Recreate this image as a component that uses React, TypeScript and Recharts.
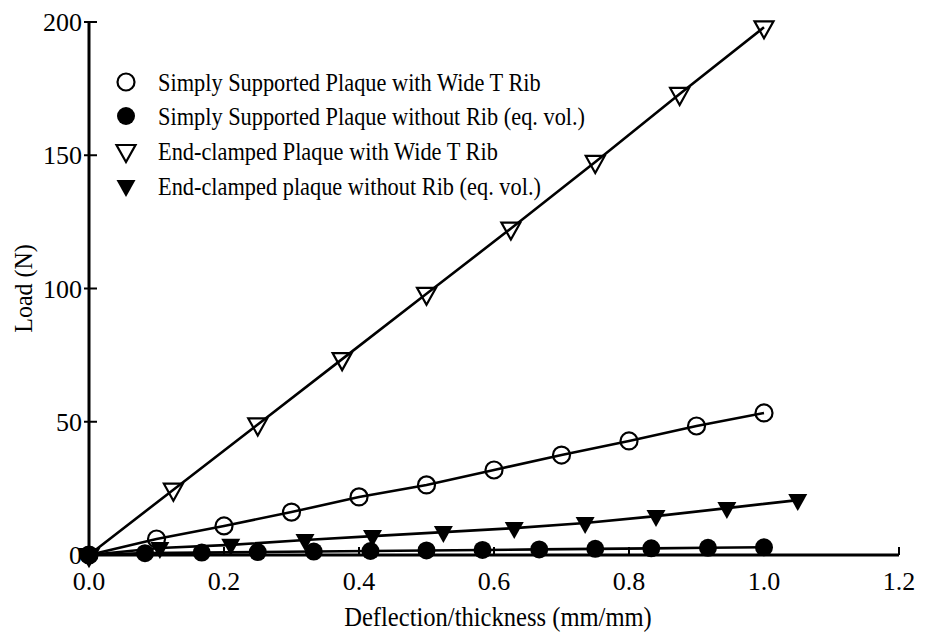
import React from "react";
import { ScatterChart, Scatter, XAxis, YAxis, Legend } from "recharts";

// axis ticks
const xTicks = [0, 0.2, 0.4, 0.6, 0.8, 1.0, 1.2];
const yTicks = [0, 50, 100, 150, 200];

// Simply supported plaque with wide T rib (open circles)
const ssRibX = [0, 0.1, 0.2, 0.3, 0.4, 0.5, 0.6, 0.7, 0.8, 0.9, 1.0];
const ssRibY = [0, 6.0, 10.9, 16.1, 21.8, 26.3, 31.9, 37.5, 42.8, 48.4, 53.3];

// Simply supported plaque without rib (filled circles)
const ssNoRibX = [0, 0.083, 0.167, 0.25, 0.333, 0.417, 0.5, 0.583, 0.667, 0.75, 0.833, 0.917, 1.0];
const ssNoRibY = [0, 0.7, 0.9, 1.1, 1.3, 1.5, 1.7, 1.9, 2.1, 2.3, 2.5, 2.7, 2.9];

// End-clamped plaque with wide T rib (open triangles)
const ecRibX = [0, 0.125, 0.25, 0.375, 0.5, 0.625, 0.75, 0.875, 1.0];
const ecRibY = [0, 24.5, 49, 73.5, 98, 122.5, 147.5, 173, 198];

// End-clamped plaque without rib (filled triangles)
const ecNoRibX = [0, 0.105, 0.21, 0.32, 0.42, 0.525, 0.63, 0.735, 0.84, 0.945, 1.05];
const ecNoRibY = [0, 2.6, 3.8, 5.6, 7.1, 8.6, 10.1, 12.0, 14.6, 17.6, 20.6];

const seriesNames = [
  "Simply Supported Plaque with Wide T Rib",
  "Simply Supported Plaque without Rib (eq. vol.)",
  "End-clamped Plaque with Wide T Rib",
  "End-clamped plaque without Rib (eq. vol.)",
];

const toPoints = (xs: number[], ys: number[]) => xs.map((x, i) => ({ x, y: ys[i] }));

const FONT = "'Liberation Serif', 'DejaVu Serif', 'Times New Roman', serif";

function OpenCircle({ cx, cy }: any) {
  return <circle cx={cx} cy={cy} r={8.5} fill="none" stroke="#000" strokeWidth={2.2} />;
}
function FilledCircle({ cx, cy }: any) {
  return <circle cx={cx} cy={cy} r={9} fill="#000" />;
}
function triPath(cx: number, cy: number) {
  return `M${cx - 9.5},${cy - 6} L${cx + 9.5},${cy - 6} L${cx},${cy + 11} Z`;
}
function OpenTriangle({ cx, cy }: any) {
  return <path d={triPath(cx, cy)} fill="none" stroke="#000" strokeWidth={2.2} strokeLinejoin="miter" />;
}
function FilledTriangle({ cx, cy }: any) {
  return <path d={triPath(cx, cy)} fill="#000" />;
}

const shapes = [OpenCircle, FilledCircle, OpenTriangle, FilledTriangle];

function BottomTick({ x, y, payload }: any) {
  return (
    <g>
      <line x1={x} x2={x} y1={y} y2={y - 8} stroke="#000" strokeWidth={2} />
      <text x={x} y={y + 35} textAnchor="middle" style={{ fontSize: 26, fontFamily: FONT }} fill="#000">
        {Number(payload.value).toFixed(1)}
      </text>
    </g>
  );
}

function LeftTick({ x, y, payload }: any) {
  return (
    <g>
      <line x1={x - 5} x2={x + 8} y1={y} y2={y} stroke="#000" strokeWidth={2} />
      <text x={x - 7} y={y + 9} textAnchor="end" style={{ fontSize: 26, fontFamily: FONT }} fill="#000">
        {payload.value}
      </text>
    </g>
  );
}

function LegendBox() {
  const rows = [82, 116, 151, 186];
  return (
    <svg width={640} height={210}>
      {seriesNames.map((name, i) => {
        const Shape = shapes[i];
        return (
          <g key={name}>
            <Shape cx={126} cy={rows[i]} />
            <text
              transform={`translate(158, ${rows[i] + 9}) scale(0.86, 1)`}
              style={{ fontSize: 26, fontFamily: FONT }}
              fill="#000"
            >
              {name}
            </text>
          </g>
        );
      })}
    </svg>
  );
}

export default function App() {
  const all = [
    toPoints(ssRibX, ssRibY),
    toPoints(ssNoRibX, ssNoRibY),
    toPoints(ecRibX, ecRibY),
    toPoints(ecNoRibX, ecNoRibY),
  ];
  return (
    <div style={{ position: "absolute", left: 0, top: 0, background: "#fff" }}>
      <ScatterChart width={926} height={632} margin={{ top: 22, right: 27, bottom: 0, left: 0 }}>
        <XAxis
          type="number"
          dataKey="x"
          domain={[0, 1.2]}
          ticks={xTicks}
          interval={0}
          height={77}
          tickSize={0}
          tickMargin={0}
          tickLine={false}
          axisLine={{ stroke: "#000", strokeWidth: 3 }}
          tick={<BottomTick />}
          label={(p: any) => {
            const vb = p.viewBox;
            return (
              <text
                transform={`translate(${vb.x + vb.width / 2 + 4}, ${vb.y + 71}) scale(0.91, 1)`}
                textAnchor="middle"
                style={{ fontSize: 27, fontFamily: FONT }}
                fill="#000"
              >
                Deflection/thickness (mm/mm)
              </text>
            );
          }}
        />
        <XAxis
          xAxisId="top"
          orientation="top"
          type="number"
          domain={[0, 1.2]}
          ticks={xTicks}
          interval={0}
          mirror
          height={0}
          tickSize={9}
          tick={() => <g />}
          tickLine={{ stroke: "#000", strokeWidth: 2 }}
          axisLine={{ stroke: "#000", strokeWidth: 2.5 }}
        />
        <YAxis
          type="number"
          dataKey="y"
          domain={[0, 200]}
          ticks={yTicks}
          interval={0}
          width={89}
          tickSize={0}
          tickMargin={0}
          tickLine={false}
          axisLine={{ stroke: "#000", strokeWidth: 3 }}
          tick={<LeftTick />}
          label={(p: any) => {
            const vb = p.viewBox;
            return (
              <text
                transform={`translate(32, ${vb.y + vb.height / 2}) rotate(-90) scale(0.92, 1)`}
                textAnchor="middle"
                style={{ fontSize: 26, fontFamily: FONT }}
                fill="#000"
              >
                Load (N)
              </text>
            );
          }}
        />
        <YAxis
          yAxisId="right"
          orientation="right"
          type="number"
          domain={[0, 200]}
          ticks={yTicks}
          interval={0}
          mirror
          width={0}
          tickSize={9}
          tick={() => <g />}
          tickLine={{ stroke: "#000", strokeWidth: 2 }}
          axisLine={{ stroke: "#000", strokeWidth: 2.5 }}
        />
        <Legend
          layout="vertical"
          align="center"
          verticalAlign="middle"
          content={() => <LegendBox />}
          wrapperStyle={{ left: 0, top: 0, width: 640, height: 210 }}
        />
        {all.map((pts, i) => (
          <Scatter
            key={seriesNames[i]}
            name={seriesNames[i]}
            data={pts}
            fill="#000"
            line={{ stroke: "#000", strokeWidth: 2.6 }}
            lineType="joint"
            shape={shapes[i]}
            isAnimationActive={false}
          />
        ))}
      </ScatterChart>
    </div>
  );
}
